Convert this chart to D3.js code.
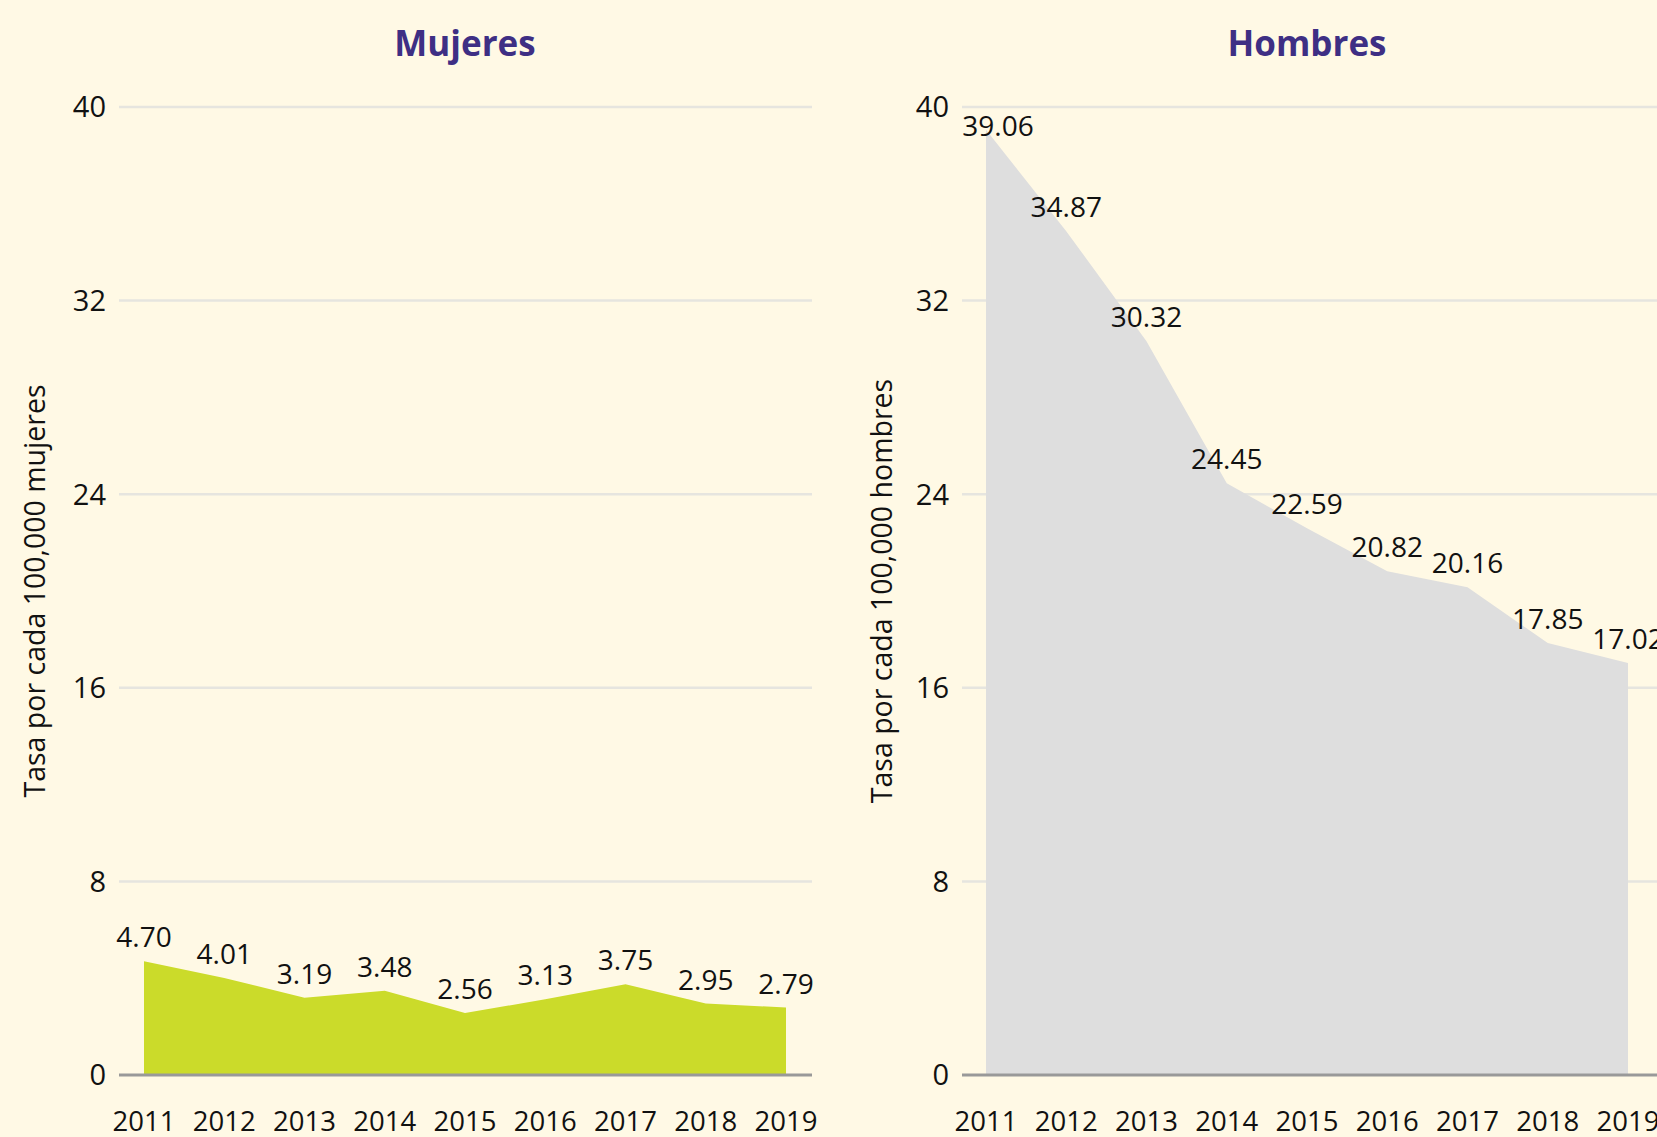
<!DOCTYPE html>
<html>
<head>
<meta charset="utf-8">
<script src="https://cdn.jsdelivr.net/npm/d3@7"></script>
<style>
  html, body { margin: 0; padding: 0; background: #fff9e5; }
  svg { display: block; }
</style>
</head>
<body>
<svg id="chart"></svg>
<script>
// data
var years = [2011, 2012, 2013, 2014, 2015, 2016, 2017, 2018, 2019];
var mujeres = [4.70, 4.01, 3.19, 3.48, 2.56, 3.13, 3.75, 2.95, 2.79];
var hombres = [39.06, 34.87, 30.32, 24.45, 22.59, 20.82, 20.16, 17.85, 17.02];
var yTicks = [0, 8, 16, 24, 32, 40];

var width = 1657, height = 1137;
var font = "'Open Sans', 'Noto Sans', sans-serif";

var svg = d3.select('#chart').attr('width', width).attr('height', height);

svg.append('rect').attr('width', width).attr('height', height).attr('fill', '#fff9e5');

var y = d3.scaleLinear().domain([0, 40]).range([1075, 107]);

function panel(opts) {
    var g = svg.append('g');
    var x = d3.scaleLinear().domain([2011, 2019]).range(opts.xRange);

    // title
    g.append('text')
        .attr('x', opts.titleX).attr('y', 56)
        .attr('text-anchor', 'middle')
        .attr('font-family', font).attr('font-weight', 700)
        .attr('font-size', 35).attr('fill', '#3e2f84')
        .text(opts.title);

    // gridlines
    g.selectAll('line.grid').data(yTicks.filter(function(d) { return d > 0; }))
        .enter().append('line')
        .attr('x1', opts.gridRange[0]).attr('x2', opts.gridRange[1])
        .attr('y1', function(d) { return y(d); })
        .attr('y2', function(d) { return y(d); })
        .attr('stroke', '#e6e5df').attr('stroke-width', 2.5);

    // y tick labels
    g.selectAll('text.ytick').data(yTicks).enter().append('text')
        .attr('x', opts.gridRange[0] - 13)
        .attr('y', function(d) { return y(d); })
        .attr('dy', '0.36em')
        .attr('text-anchor', 'end')
        .attr('font-family', font).attr('font-size', 29).attr('fill', '#111')
        .text(function(d) { return d; });

    // y axis title
    g.append('text')
        .attr('transform', 'translate(' + opts.yTitleX + ',' + ((y(0) + y(40)) / 2) + ') rotate(-90)')
        .attr('text-anchor', 'middle')
        .attr('dy', '0.36em')
        .attr('font-family', font).attr('font-size', 28.5).attr('fill', '#111')
        .text(opts.yTitle);

    // area
    var area = d3.area()
        .x(function(d, i) { return x(years[i]); })
        .y0(y(0))
        .y1(function(d) { return y(d); });
    g.append('path').datum(opts.values)
        .attr('d', area)
        .attr('fill', opts.color);

    // baseline
    g.append('line')
        .attr('x1', opts.gridRange[0]).attr('x2', opts.gridRange[1])
        .attr('y1', y(0)).attr('y2', y(0))
        .attr('stroke', '#999').attr('stroke-width', 3);

    // value labels
    g.selectAll('text.val').data(opts.values).enter().append('text')
        .attr('x', function(d, i) { return x(years[i]) + (i === 0 && d > 38 ? 12 : 0); })
        .attr('y', function(d) { return Math.max(y(d) - 24, y(40) + 19); })
        .attr('dy', '0.36em')
        .attr('text-anchor', 'middle')
        .attr('font-family', font).attr('font-size', 28).attr('fill', '#111')
        .text(function(d) { return d.toFixed(2); });

    // x tick labels
    g.selectAll('text.xtick').data(years).enter().append('text')
        .attr('x', function(d) { return x(d); })
        .attr('y', 1121)
        .attr('dy', '0.36em')
        .attr('text-anchor', 'middle')
        .attr('font-family', font).attr('font-size', 27.5).attr('fill', '#111')
        .text(function(d) { return d; });
}

panel({
    title: 'Mujeres', titleX: 465,
    xRange: [144, 786], gridRange: [119, 812],
    yTitleX: 35, yTitle: 'Tasa por cada 100,000 mujeres',
    values: mujeres, color: '#cbdb2a'
});

panel({
    title: 'Hombres', titleX: 1307,
    xRange: [986, 1628], gridRange: [962, 1660],
    yTitleX: 882, yTitle: 'Tasa por cada 100,000 hombres',
    values: hombres, color: '#dedede'
});
</script>
</body>
</html>
